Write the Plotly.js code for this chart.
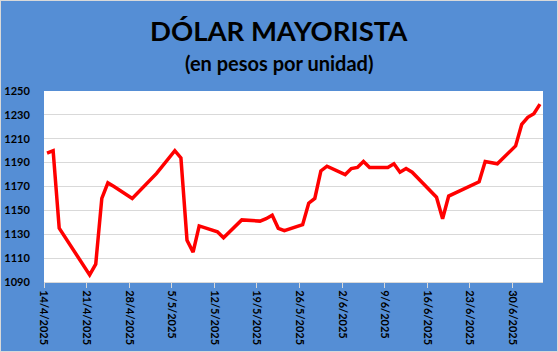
<!DOCTYPE html>
<html>
<head>
<meta charset="utf-8">
<script src="https://cdn.plot.ly/plotly-3.0.1.min.js"></script>
<style>
  html, body { margin: 0; padding: 0; background: #558ED5; }
  #wrap { position: relative; width: 558px; height: 352px; }
  #chart { width: 558px; height: 352px; }
  #frame { position: absolute; left: 0; top: 0; width: 558px; height: 352px; box-sizing: border-box; border: 1px solid #d9d9d9; pointer-events: none; }
</style>
</head>
<body>
<div id="wrap"><div id="chart"></div><div id="frame"></div></div>
<script>
const titleText = "DÓLAR MAYORISTA";
const subtitleText = "(en pesos por unidad)";

const dates = [
  "2025-04-14","2025-04-15","2025-04-16","2025-04-21","2025-04-22","2025-04-23","2025-04-24","2025-04-25",
  "2025-04-28","2025-04-29","2025-04-30","2025-05-02",
  "2025-05-05","2025-05-06","2025-05-07","2025-05-08","2025-05-09",
  "2025-05-12","2025-05-13","2025-05-14","2025-05-15","2025-05-16",
  "2025-05-19","2025-05-20","2025-05-21","2025-05-22","2025-05-23",
  "2025-05-26","2025-05-27","2025-05-28","2025-05-29","2025-05-30",
  "2025-06-02","2025-06-03","2025-06-04","2025-06-05","2025-06-06",
  "2025-06-09","2025-06-10","2025-06-11","2025-06-12","2025-06-13",
  "2025-06-17","2025-06-18","2025-06-19",
  "2025-06-23","2025-06-24","2025-06-25","2025-06-26","2025-06-27",
  "2025-06-30","2025-07-01","2025-07-02","2025-07-03","2025-07-04"
];
const values = [
  1198, 1200, 1135, 1096, 1105, 1160, 1173, 1170,
  1160, 1165, 1170, 1181,
  1200, 1194, 1125, 1115, 1137,
  1132, 1127, 1132, 1137, 1142,
  1141, 1143, 1146, 1135, 1133,
  1138, 1156, 1160, 1183, 1187,
  1180, 1185, 1186, 1191, 1186,
  1186, 1189, 1182, 1185, 1182,
  1161, 1143, 1162,
  1172, 1174, 1191, 1190, 1189,
  1204, 1222, 1228, 1231, 1239
];
const yTicks = [1090, 1110, 1130, 1150, 1170, 1190, 1210, 1230, 1250];
const xTickStart = "2025-04-14";
const xRange = ["2025-04-14", "2025-07-05"];

const fontFam = "Lato, 'Open Sans', sans-serif";

const trace = {
  type: "scatter",
  mode: "lines",
  x: dates,
  y: values,
  xperiod: 86400000,
  xperiodalignment: "middle",
  line: { color: "#FF0000", width: 3.5, shape: "linear" },
  hoverinfo: "skip"
};

const layout = {
  width: 558,
  height: 352,
  paper_bgcolor: "#558ED5",
  plot_bgcolor: "#FFFFFF",
  margin: { l: 44, r: 15, t: 91, b: 70, pad: 0 },
  showlegend: false,
  xaxis: {
    type: "date",
    range: xRange,
    tick0: xTickStart,
    dtick: 7 * 86400000,
    tickformat: "%-d/%-m/%Y",
    tickangle: 90,
    ticks: "outside",
    ticklen: 5,
    tickcolor: "#d9d9d9",
    showline: true,
    linecolor: "#d9d9d9",
    linewidth: 1,
    showgrid: false,
    zeroline: false,
    tickfont: { family: fontFam, size: 11, color: "#000000", weight: "bold" }
  },
  yaxis: {
    range: [1090, 1250],
    tickvals: yTicks,
    ticktext: yTicks.map(String),
    ticks: "outside",
    ticklen: 11,
    tickcolor: "rgba(0,0,0,0)",
    showline: false,
    showgrid: true,
    gridcolor: "#d9d9d9",
    gridwidth: 1,
    zeroline: false,
    tickfont: { family: fontFam, size: 11, color: "#000000", weight: "bold" }
  },
  annotations: [
    {
      text: titleText,
      xref: "paper", yref: "paper",
      x: (279 - 44) / 499, y: 1,
      xanchor: "center", yanchor: "middle",
      yshift: 61,
      showarrow: false,
      font: { family: fontFam, size: 27.5, color: "#000000", weight: "bold" }
    },
    {
      text: subtitleText,
      xref: "paper", yref: "paper",
      x: (279 - 44) / 499, y: 1,
      xanchor: "center", yanchor: "middle",
      yshift: 28,
      showarrow: false,
      font: { family: fontFam, size: 20, color: "#000000", weight: "bold" }
    }
  ]
};

Plotly.newPlot("chart", [trace], layout, { staticPlot: true, displayModeBar: false });
</script>
</body>
</html>
